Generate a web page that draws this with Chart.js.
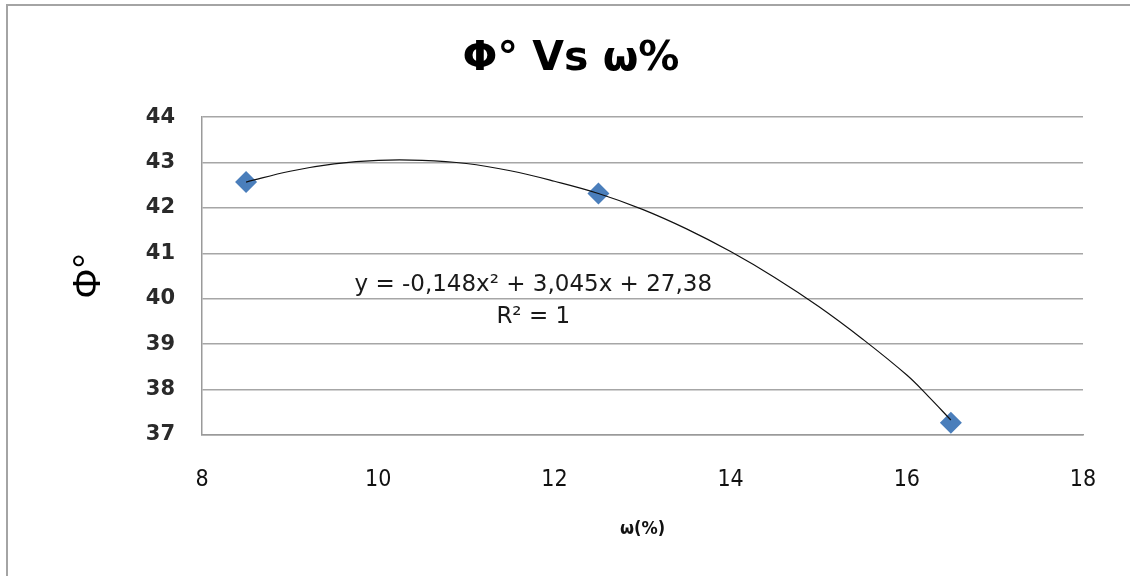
<!DOCTYPE html>
<html>
<head>
<meta charset="utf-8">
<script src="https://cdn.jsdelivr.net/npm/chart.js@4/dist/chart.umd.min.js"></script>
<style>
  html, body { margin: 0; padding: 0; background: #fff; overflow: hidden; }
  #wrap { position: relative; width: 1130px; height: 576px; }
  #frame { position: absolute; left: 6px; top: 4px; width: 1200px; height: 700px;
           border-top: 2px solid #a4a4a4; border-left: 2px solid #a4a4a4; pointer-events: none; }
</style>
</head>
<body>
<div id="wrap">
  <canvas id="phiGraph" width="1130" height="576"></canvas>
  <div id="frame"></div>
</div>
<script>
// measured points (w %, phi deg)
var moisture = [8.5, 12.5, 16.5]
var phiValues = [42.57, 42.32, 37.27]

// trendline
var trendX = [8.5, 9, 9.5, 10, 10.5, 11, 11.5, 12, 12.5, 13, 13.5, 14, 14.5, 15, 15.5, 16, 16.25, 16.5]
var trendY = [42.57, 42.81, 42.97, 43.05, 43.05, 42.98, 42.82, 42.59, 42.32, 41.97, 41.54, 41.04, 40.47, 39.83, 39.11, 38.32, 37.84, 37.33]

var equationText = ['y = -0,148x\u00b2 + 3,045x + 27,38', 'R\u00b2 = 1']
var equationAt = { x: 11.76, y: 39.96 }

function pairs(xs, ys) {
    return xs.map(function (x, i) { return { x: x, y: ys[i] } })
}

var equationLabel = {
    id: 'equationLabel',
    afterDatasetsDraw: function (chart) {
        var ctx = chart.ctx
        var px = chart.scales.x.getPixelForValue(equationAt.x)
        var py = chart.scales.y.getPixelForValue(equationAt.y)
        ctx.save()
        ctx.fillStyle = '#1a1a1a'
        ctx.font = '23px "DejaVu Sans"'
        ctx.textAlign = 'center'
        ctx.textBaseline = 'middle'
        ctx.fillText(equationText[0], px, py - 16)
        ctx.fillText(equationText[1], px, py + 16)
        ctx.restore()
    }
}

function renderGraph(canvas_id) {
    var myChart = new Chart(document.getElementById(canvas_id), {
        type: 'scatter',
        data: {
            datasets: [{
                type: 'line',
                label: 'trend',
                data: pairs(trendX, trendY),
                borderColor: '#111',
                borderWidth: 1.2,
                pointRadius: 0,
                tension: 0.4,
                fill: false,
                order: 0
            }, {
                label: 'phi',
                data: pairs(moisture, phiValues),
                pointStyle: 'rectRot',
                pointRadius: 11,
                pointHoverRadius: 11,
                backgroundColor: '#4a7ebb',
                borderColor: '#4a7ebb',
                borderWidth: 0,
                order: 1
            }]
        },
        options: {
            responsive: false,
            animation: false,
            layout: { padding: { left: 59, top: 0, right: 47, bottom: 0 } },
            plugins: {
                legend: { display: false },
                tooltip: { enabled: false },
                title: {
                    display: true,
                    text: '\u03a6\u00b0 Vs \u03c9%',
                    color: '#000',
                    font: { family: '"DejaVu Sans"', size: 41, weight: 'bold' },
                    padding: { top: 35, bottom: 33 }
                }
            },
            scales: {
                x: {
                    type: 'linear',
                    min: 8,
                    max: 18,
                    ticks: {
                        stepSize: 2,
                        padding: 31,
                        color: '#111',
                        font: { family: '"Liberation Sans Narrow", "DejaVu Sans Condensed"', size: 23 }
                    },
                    grid: { display: false, drawTicks: false },
                    border: { display: true, color: '#9a9a9a', width: 1.5 },
                    title: {
                        display: true,
                        text: '\u03c9(%)',
                        color: '#111',
                        font: { family: '"DejaVu Sans Condensed"', size: 18, weight: 'bold' },
                        padding: { top: 0, bottom: 36 }
                    },
                    afterFit: function (scale) { scale.height = 576 - 435 }
                },
                y: {
                    min: 37,
                    max: 44,
                    ticks: {
                        stepSize: 1,
                        padding: 27,
                        color: '#2a2a2a',
                        font: { family: '"DejaVu Sans"', size: 21, weight: 'bold' }
                    },
                    grid: { color: '#a6a6a6', lineWidth: 1.5, drawTicks: false },
                    border: { display: true, color: '#9a9a9a', width: 1.5 },
                    title: {
                        display: true,
                        text: '\u03a6\u00b0',
                        color: '#000',
                        font: { family: '"Liberation Sans"', size: 38 },
                        padding: { top: 8, bottom: 0 }
                    },
                    afterFit: function (scale) { scale.width = 202 - 59 }
                }
            }
        },
        plugins: [equationLabel]
    })
}

renderGraph('phiGraph')
</script>
</body>
</html>
